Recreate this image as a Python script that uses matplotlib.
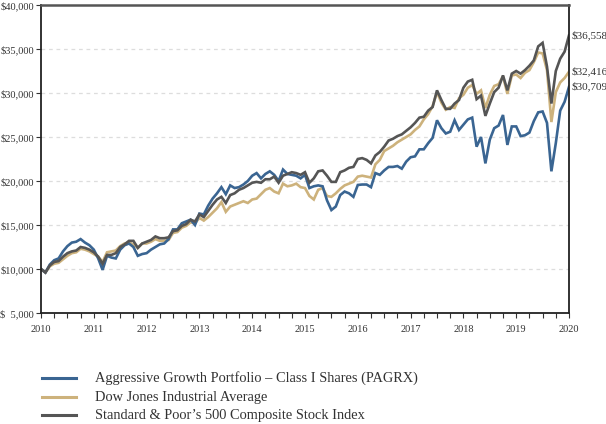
import matplotlib
matplotlib.use("Agg")
import matplotlib.pyplot as plt
from matplotlib.ticker import MultipleLocator, FuncFormatter
from matplotlib.lines import Line2D
import numpy as np

# monthly growth of $10,000, Jan 2010 .. Jan 2020 (values in $ thousands)
pagrx = [10.0, 9.6, 10.5, 11.0, 11.2, 12.0, 12.6, 13.0, 13.1, 13.4, 13.0, 12.7,
         12.2, 11.2, 9.9, 11.5, 11.3, 11.2, 12.2, 12.7, 12.9, 12.5, 11.5, 11.7,
         11.8, 12.2, 12.5, 12.8, 12.9, 13.4, 14.5, 14.5, 15.2, 15.4, 15.6, 15.0,
         16.3, 16.2, 17.2, 18.0, 18.6, 19.3, 18.5, 19.5, 19.2, 19.3, 19.6, 20.0,
         20.6, 20.9, 20.3, 20.8, 21.1, 20.7, 20.0, 21.3, 20.8, 20.7, 20.6, 20.3,
         20.7, 19.2, 19.4, 19.5, 19.4, 17.8, 16.7, 17.1, 18.4, 18.8, 18.6, 18.2,
         19.55, 19.6, 19.6, 19.3, 20.9, 20.7, 21.2, 21.6, 21.6, 21.7, 21.4, 22.2,
         22.7, 22.8, 23.6, 23.6, 24.3, 24.9, 26.9, 26.0, 25.4, 25.6, 26.9, 25.8,
         26.4, 27.0, 27.2, 23.9, 25.0, 22.0, 24.7, 26.0, 26.3, 27.5, 24.1, 26.2,
         26.2, 25.1, 25.2, 25.5, 26.8, 27.8, 27.9, 26.6, 21.1, 24.3, 28.0, 29.0,
         30.709]
dow = [10.0, 9.6, 10.3, 10.6, 10.7, 11.1, 11.5, 11.8, 11.9, 12.3, 12.2, 12.0,
       11.7, 11.4, 10.8, 11.9, 12.0, 12.1, 12.6, 12.9, 13.0, 12.8, 12.4, 12.9,
       12.9, 13.1, 13.4, 13.2, 13.2, 13.3, 14.1, 14.2, 14.7, 14.9, 15.3, 15.2,
       15.8, 15.5, 15.9, 16.4, 16.9, 17.6, 16.5, 17.1, 17.3, 17.5, 17.7, 17.5,
       17.9, 18.0, 18.5, 19.0, 19.2, 18.8, 18.6, 19.7, 19.4, 19.5, 19.7, 19.3,
       19.2, 18.3, 17.9, 19.0, 19.2, 18.3, 18.2, 18.6, 19.1, 19.5, 19.7, 19.9,
       20.5, 20.6, 20.5, 20.4, 21.9, 22.4, 23.4, 23.7, 24.0, 24.4, 24.7, 25.0,
       25.3, 25.8, 26.2, 27.0, 27.6, 28.5, 30.1, 28.9, 28.1, 28.4, 28.3, 29.4,
       29.8, 30.6, 30.9, 29.9, 30.3, 28.3, 29.8, 30.8, 31.0, 31.9, 29.9, 32.0,
       32.1, 31.7, 32.3, 32.6, 33.5, 34.6, 34.5, 32.6, 26.7, 30.1, 31.2, 31.7,
       32.416]
sp500 = [10.0, 9.6, 10.4, 10.8, 10.9, 11.4, 11.8, 12.0, 12.1, 12.5, 12.4, 12.2,
         11.9, 11.4, 10.6, 11.6, 11.6, 11.8, 12.5, 12.8, 13.2, 13.2, 12.4, 12.9,
         13.1, 13.3, 13.7, 13.5, 13.5, 13.6, 14.3, 14.4, 14.9, 15.1, 15.6, 15.4,
         16.2, 15.9, 16.6, 17.3, 17.9, 18.2, 17.5, 18.4, 18.6, 19.0, 19.2, 19.5,
         19.8, 19.9, 19.8, 20.2, 20.2, 20.5, 19.8, 20.6, 20.8, 21.0, 20.9, 20.7,
         21.0, 19.8, 20.3, 21.1, 21.2, 20.6, 19.9, 19.9, 21.0, 21.2, 21.5, 21.6,
         22.5, 22.6, 22.4, 22.0, 22.9, 23.3, 23.9, 24.6, 24.8, 25.1, 25.3, 25.7,
         26.1, 26.6, 27.2, 27.3, 28.0, 28.4, 30.3, 29.2, 28.2, 28.2, 28.8, 29.2,
         30.6, 31.3, 31.5, 29.3, 29.7, 27.4, 28.8, 30.1, 30.6, 32.0, 30.3, 32.2,
         32.5, 32.2, 32.6, 33.1, 33.7, 35.3, 35.7, 33.0, 28.8, 32.5, 33.9, 34.7,
         36.558]

names = ["Aggressive Growth Portfolio \u2013 Class I Shares (PAGRX)",
         "Dow Jones Industrial Average",
         "Standard & Poor\u2019s 500 Composite Stock Index"]
colors = ["#3a6592", "#cdb27c", "#555555"]
years = np.arange(2010, 2021)

t = 2010 + np.arange(len(pagrx)) / 12.0
series = [np.array(pagrx) * 1000, np.array(dow) * 1000, np.array(sp500) * 1000]

plt.rcParams['font.family'] = ['Liberation Serif', 'DejaVu Serif']

fig = plt.figure(figsize=(6.06, 4.24), dpi=100)
ax = fig.add_axes([41 / 606, 1 - 313 / 424, 528 / 606, 308 / 424])

# draw S&P last so it sits on top, like the original
for i in [1, 0, 2]:
    ax.plot(t, series[i], color=colors[i], lw=1.9, solid_joinstyle='miter')

ax.set_xlim(2010, 2020)
ax.set_ylim(5000, 40000)
ax.yaxis.set_major_locator(MultipleLocator(5000))
ax.xaxis.set_minor_locator(MultipleLocator(0.25))
ax.set_xticks(years)
ax.set_xticklabels([str(y) for y in years])


def money(v, pos):
    if v < 10000:
        return "$  " + f"{v:,.0f}"
    return f"${v:,.0f}"


ax.yaxis.set_major_formatter(FuncFormatter(money))
ax.tick_params(axis='both', which='both', labelsize=7.5, colors='#333333',
               length=3.5, width=0.8, pad=1.5)
ax.tick_params(axis='x', which='major', pad=5)

for v in range(10000, 40000, 5000):
    ax.axhline(v, color='#dddddd', lw=0.9, ls=(0, (3, 3)), zorder=0)

for side in ['left', 'bottom', 'right']:
    ax.spines[side].set_color('#222222')
    ax.spines[side].set_linewidth(1.3)
ax.spines['top'].set_color('#555555')
ax.spines['top'].set_linewidth(1.8)

# end-of-period values
for s in series:
    ax.text(2020 + 0.04, s[-1], f"${s[-1]:,.0f}", fontsize=8, color='#333333',
            va='center', ha='left', clip_on=False)

# legend
rows = [378, 397, 415]
for name, c, y in zip(names, colors, rows):
    yy = 1 - y / 424
    fig.add_artist(Line2D([42 / 606, 76 / 606], [yy, yy], color=c, lw=2.2))
    fig.text(95 / 606, yy, name, fontsize=10.4, color='#333333', va='center')

fig.savefig("out.png", dpi=100)
